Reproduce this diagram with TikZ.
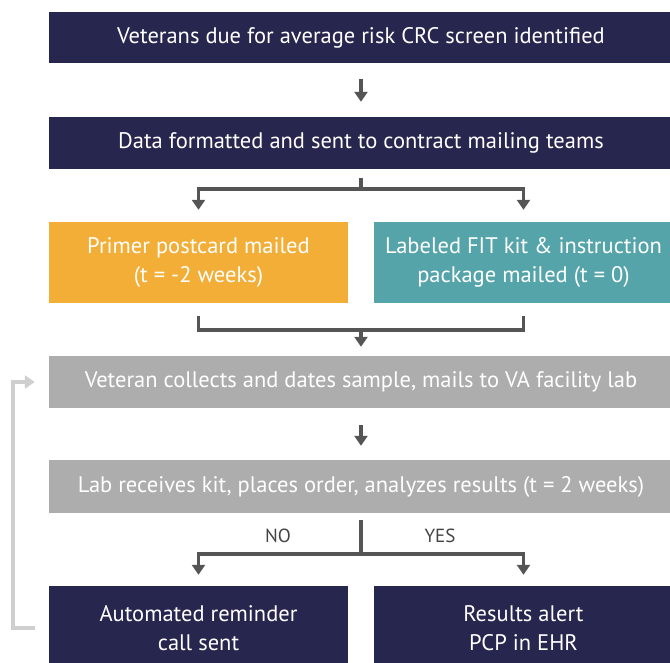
\documentclass[tikz,border=0pt]{standalone}
\usepackage{fontspec}
\setmainfont{PT Sans}
\usetikzlibrary{arrows.meta}
\definecolor{navyblue}{RGB}{39,38,78}
\definecolor{orangebox}{RGB}{242,174,54}
\definecolor{tealbox}{RGB}{85,164,169}
\definecolor{graybox}{RGB}{173,173,173}
\definecolor{linegray}{RGB}{85,85,85}
\definecolor{backgray}{RGB}{207,207,207}

\begin{document}
\begin{tikzpicture}[x=1pt, y=-1pt,
  box/.style={inner sep=0pt, text=white, align=center, font=\fontsize{22.5}{29.5}\selectfont},
  wide/.style={box, minimum width=624pt, minimum height=#1},
  half/.style={box, minimum width=299pt, minimum height=#1},
  link/.style={draw=linegray, line width=3.5pt},
  arr/.style={link, -{Triangle[width=13pt,length=10pt]}},
  back/.style={draw=backgray, line width=3.5pt, -{Triangle[width=13pt,length=10pt]}},
  answer/.style={text=linegray!80!black, font=\fontsize{19}{22}\selectfont}]
\useasboundingbox (0,0) rectangle (670,663);

\node[wide=51pt, fill=navyblue] (b1) at (361,37.5) {Veterans due for average risk CRC screen identified};
\node[wide=52pt, fill=navyblue] (b2) at (361,143) {Data formatted and sent to contract mailing teams};
\node[half=81pt, fill=orangebox] (b3l) at (198.5,262.5) {Primer postcard mailed\\(t = -2 weeks)};
\node[half=81pt, fill=tealbox] (b3r) at (523.5,262.5) {Labeled FIT kit \& instruction\\package mailed (t = 0)};
\node[wide=52pt, fill=graybox] (b4) at (361,382) {Veteran collects and dates sample, mails to VA facility lab};
\node[wide=53pt, fill=graybox] (b5) at (361,486.5) {Lab receives kit, places order, analyzes results (t = 2 weeks)};
\node[half=84pt, fill=navyblue] (b6l) at (198.5,628) {Automated reminder\\call sent};
\node[half=84pt, fill=navyblue] (b6r) at (523.5,628) {Results alert\\PCP in EHR};

\coordinate (j1) at (361,189);
\coordinate (j2) at (361,330);
\coordinate (j3) at (361,554);

\draw[arr] ([yshift=-16pt]b1.south) -- ([yshift=15pt]b2.north);

\draw[link] ([yshift=-9pt]b2.south) -- (j1);
\draw[arr] (j1) -| ([yshift=12pt]b3l.north);
\draw[arr] (j1) -| ([yshift=12pt]b3r.north);

\draw[link] ([yshift=-13pt]b3l.south) |- (j2) -| ([yshift=-13pt]b3r.south);
\draw[arr] (j2) -- ([yshift=9pt]b4.north);

\draw[arr] ([yshift=-17pt]b4.south) -- ([yshift=14pt]b5.north);

\draw[link] ([yshift=-7pt]b5.south) -- (j3);
\draw[arr] (j3) -| ([yshift=11pt]b6l.north);
\draw[arr] (j3) -| ([yshift=11pt]b6r.north);
\node[answer] (no) at (278,536) {NO};
\node[answer] (yes) at (440,536) {YES};

\draw[back] ([xshift=-14pt]b6l.west) -- ++(-22,0) |- ([xshift=-14pt]b4.west);
\end{tikzpicture}
\end{document}
